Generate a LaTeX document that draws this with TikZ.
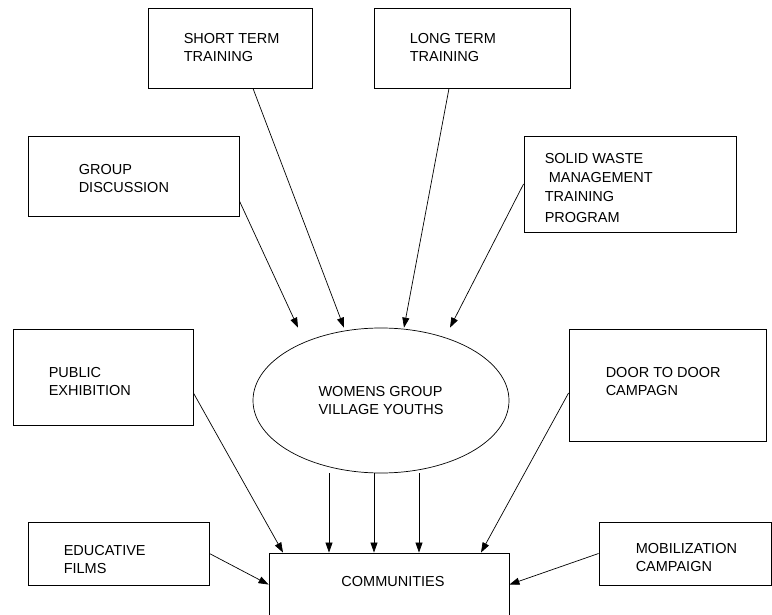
\documentclass[tikz,border=0pt]{standalone}
\usepackage{fontspec}
\setmainfont{Liberation Sans}
\usetikzlibrary{arrows.meta,shapes.geometric}

\begin{document}
\begin{tikzpicture}[x=1pt,y=-1pt,
        box/.style={draw,line width=0.9pt,inner sep=0pt},
        txt/.style={font=\fontsize{14.5}{18}\selectfont,align=left,inner sep=0pt,anchor=west},
        arr/.style={line width=0.7pt,-{Triangle[length=10pt,width=7pt]}}]
    \clip (0,0) rectangle (772,615);
    % boxes
    \node[box,minimum width=164,minimum height=80,
        label={[txt,xshift=36]west:{SHORT TERM\\TRAINING}}] (short) at (230,48) {};
    \node[box,minimum width=196,minimum height=80,
        label={[txt,xshift=36]west:{LONG TERM\\TRAINING}}] (long) at (472,48) {};
    \node[box,minimum width=211,minimum height=80,
        label={[txt,xshift=51,yshift=-3]west:{GROUP\\DISCUSSION}}] (group) at (133.5,176) {};
    \node[box,minimum width=212,minimum height=96,
        label={[txt,font=\fontsize{14.5}{19}\selectfont,xshift=21,yshift=-4]west:{SOLID WASTE\\\hspace*{4pt}MANAGEMENT\\TRAINING\\[2pt]PROGRAM}}] (solid) at (630,184) {};
    \node[box,minimum width=180,minimum height=96,
        label={[txt,xshift=36,yshift=-5]west:{PUBLIC\\EXHIBITION}}] (public) at (103,377) {};
    \node[box,minimum width=197,minimum height=112,
        label={[txt,xshift=37,yshift=3]west:{DOOR TO DOOR\\CAMPAGN}}] (door) at (667.5,385) {};
    \node[box,minimum width=181,minimum height=63,
        label={[txt,xshift=36,yshift=-6]west:{EDUCATIVE\\FILMS}}] (edu) at (118.5,553.5) {};
    \node[box,minimum width=172,minimum height=63,
        label={[txt,xshift=37,yshift=-4.5]west:{MOBILIZATION\\CAMPAIGN}}] (mob) at (685,553.5) {};
    \node[box,minimum width=240,minimum height=86,
        label={[txt,anchor=north,xshift=4,yshift=-23.5]north:COMMUNITIES}] (comm) at (389,596) {};
    % centre group
    \node[draw,ellipse,line width=0.7pt,minimum width=256,minimum height=145,inner sep=0pt,
        font=\fontsize{14.5}{18}\selectfont,align=left] (women) at (381,400.5) {WOMENS GROUP\\VILLAGE YOUTHS};
    % arrows into the group
    \draw[arr] ([xshift=23]short.south) -- ([xshift=-37]women.north);
    \draw[arr] ([xshift=-23]long.south) -- ([xshift=23]women.north);
    \draw[arr] ([yshift=-25]group.east) -- ([xshift=-83]women.north);
    \draw[arr] (solid.west) -- ([xshift=69]women.north);
    % arrows into the communities
    \draw[arr] ([yshift=-16]public.east) -- ([xshift=-106]comm.north);
    \draw[arr] ([yshift=-8]door.west) -- ([xshift=92]comm.north);
    \draw[arr] (edu.east) -- ([yshift=-32]comm.north west);
    \draw[arr] (mob.west) -- ([yshift=-32]comm.north east);
    \foreach \dx in {-52,-7,38}
        \draw[arr] ([xshift=\dx]women.south) -- ([xshift=\dx]women.south |- comm.north);
\end{tikzpicture}
\end{document}
